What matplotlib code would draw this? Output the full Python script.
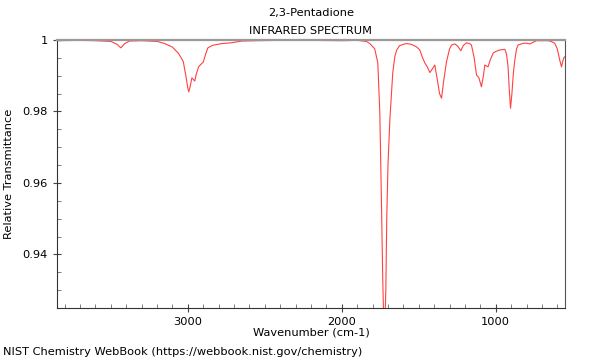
import matplotlib
matplotlib.use('Agg')
import matplotlib.pyplot as plt
from matplotlib.ticker import MultipleLocator, FormatStrFormatter

# spectrum (wavenumber cm-1, relative transmittance)
wavenumber = [3850, 3700, 3600, 3500, 3460, 3435, 3410, 3380, 3300, 3200,
              3150, 3100, 3060, 3030, 3013, 3000, 2994, 2985, 2974, 2965,
              2955, 2945, 2930, 2915, 2900, 2885, 2870, 2840, 2780, 2720,
              2650, 2550, 2400, 2200, 2000, 1900, 1840, 1818, 1800, 1786,
              1766, 1753, 1743, 1734, 1727, 1721, 1714, 1708, 1700, 1688,
              1669, 1655, 1643, 1625, 1600, 1580, 1550, 1515, 1493, 1475,
              1461, 1445, 1428, 1410, 1396, 1380, 1365, 1352, 1340, 1320,
              1300, 1287, 1266, 1245, 1227, 1210, 1190, 1170, 1158, 1140,
              1125, 1110, 1093, 1080, 1071, 1060, 1050, 1035, 1017, 1000,
              974, 941, 930, 920, 912, 904, 895, 885, 876, 865,
              855, 820, 800, 779, 760, 735, 700, 660, 640, 617,
              600, 585, 573, 565, 558, 552]
transmittance = [0.9998, 0.9999, 0.9998, 0.9996, 0.9988, 0.9978, 0.9990, 0.9997, 0.9998, 0.9996,
                 0.9990, 0.9980, 0.9962, 0.9940, 0.9900, 0.9865, 0.9855, 0.9870, 0.9894, 0.9890,
                 0.9885, 0.9905, 0.9925, 0.9932, 0.9938, 0.9960, 0.9978, 0.9985, 0.9990, 0.9992,
                 0.9997, 0.9998, 0.9999, 0.9999, 0.9998, 0.9999, 0.9996, 0.9990, 0.9982, 0.9975,
                 0.9936, 0.9796, 0.9560, 0.9330, 0.9200, 0.9200, 0.9300, 0.9500, 0.9650, 0.9776,
                 0.9908, 0.9955, 0.9972, 0.9984, 0.9988, 0.9990, 0.9988, 0.9981, 0.9972, 0.9950,
                 0.9936, 0.9925, 0.9909, 0.9920, 0.9930, 0.9890, 0.9850, 0.9837, 0.9880, 0.9939,
                 0.9975, 0.9986, 0.9989, 0.9982, 0.9970, 0.9985, 0.9992, 0.9990, 0.9986, 0.9950,
                 0.9902, 0.9895, 0.9869, 0.9900, 0.9930, 0.9927, 0.9925, 0.9945, 0.9963, 0.9968,
                 0.9972, 0.9974, 0.9960, 0.9925, 0.9860, 0.9809, 0.9850, 0.9910, 0.9944, 0.9975,
                 0.9986, 0.9991, 0.9991, 0.9989, 0.9993, 0.9998, 0.9998, 0.9998, 0.9996, 0.9991,
                 0.9975, 0.9945, 0.9925, 0.9940, 0.9950, 0.9953]

fs = 8.2

fig = plt.figure(figsize=(6, 3.6), dpi=100)
ax = fig.add_axes([0.095, 0.1444, 0.8467, 0.7445])

ax.plot(wavenumber, transmittance, color='#ff2020', lw=0.8, alpha=0.85)
ax.set_xlim(3850, 550)
ax.set_ylim(0.925, 1.0)

ax.xaxis.set_major_locator(MultipleLocator(1000))
ax.xaxis.set_minor_locator(MultipleLocator(100))
ax.yaxis.set_major_locator(MultipleLocator(0.02))
ax.yaxis.set_minor_locator(MultipleLocator(0.005))
ax.yaxis.set_major_formatter(FormatStrFormatter('%g'))
ax.tick_params(which='major', direction='inout', length=6, width=0.8,
               labelsize=fs, top=False, right=False, color='#444444')
ax.tick_params(which='minor', direction='in', length=3, width=0.6,
               top=False, right=False, color='#666666')

ax.spines['top'].set_color('#999999')
ax.spines['top'].set_linewidth(1.6)
ax.spines['right'].set_color('#555555')
ax.spines['left'].set_color('#333333')
ax.spines['bottom'].set_color('#333333')

ax.set_xlabel('Wavenumber (cm-1)', fontsize=fs, labelpad=0)
ax.set_ylabel('Relative Transmittance', fontsize=fs, labelpad=6)
fig.text(0.518, 0.965, '2,3-Pentadione', ha='center', va='center', fontsize=fs)
fig.text(0.518, 0.915, 'INFRARED SPECTRUM', ha='center', va='center', fontsize=fs)
fig.text(0.005, 0.022, 'NIST Chemistry WebBook (https://webbook.nist.gov/chemistry)',
         ha='left', va='center', fontsize=fs)

fig.savefig('out.png', dpi=100)
